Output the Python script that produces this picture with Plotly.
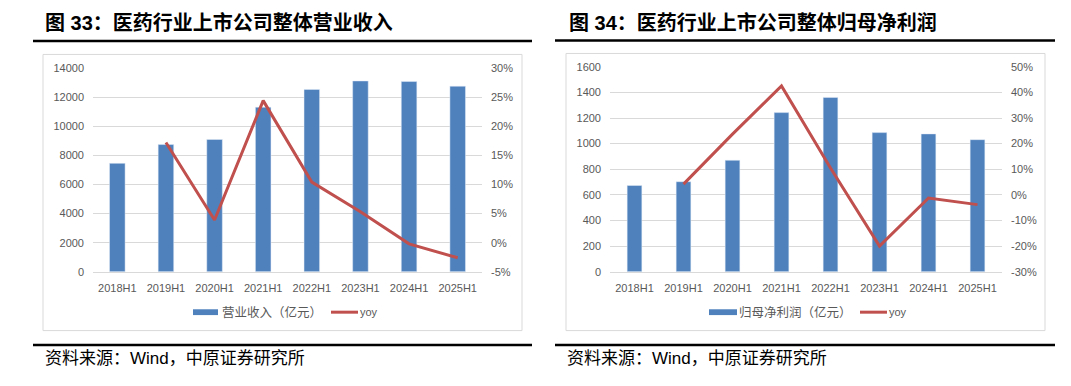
import plotly.graph_objects as go

# ---------------- data ----------------
categories = ["2018H1", "2019H1", "2020H1", "2021H1", "2022H1", "2023H1", "2024H1", "2025H1"]

revenue = [7450, 8740, 9090, 11310, 12530, 13110, 13070, 12750]          # 营业收入（亿元）
revenue_yoy = [None, 17.2, 3.9, 24.4, 10.4, 5.3, -0.2, -2.6]              # %

profit = [673, 703, 870, 1242, 1361, 1086, 1076, 1031]                    # 归母净利润（亿元）
profit_yoy = [None, 4.2, 23.7, 42.5, 10.5, -20.0, -1.2, -3.8]             # %

left_y_ticks = [0, 2000, 4000, 6000, 8000, 10000, 12000, 14000]
left_y_labels = ["0", "2000", "4000", "6000", "8000", "10000", "12000", "14000"]
left_pct_ticks = [-5, 0, 5, 10, 15, 20, 25, 30]
left_pct_labels = ["-5%", "0%", "5%", "10%", "15%", "20%", "25%", "30%"]

right_y_ticks = [0, 200, 400, 600, 800, 1000, 1200, 1400, 1600]
right_y_labels = ["0", "200", "400", "600", "800", "1000", "1200", "1400", "1600"]
right_pct_ticks = [-30, -20, -10, 0, 10, 20, 30, 40, 50]
right_pct_labels = ["-30%", "-20%", "-10%", "0%", "10%", "20%", "30%", "40%", "50%"]

title_left = "图 33：医药行业上市公司整体营业收入"
title_right = "图 34：医药行业上市公司整体归母净利润"
source_text = "资料来源：Wind，中原证券研究所"
legend_left = "营业收入（亿元）"
legend_right = "归母净利润（亿元）"
legend_yoy = "yoy"

# ---------------- style ----------------
W, H = 1071, 386
BAR = "#4F81BD"
LINE = "#C0504D"
GRID = "#D9D9D9"
TICK = "#595959"
SANS = "Liberation Sans, Noto Sans CJK SC, sans-serif"


def px(x):
    return x / W


def py(y):
    return 1 - y / H


fig = go.Figure()

# left chart
fig.add_trace(go.Bar(x=categories, y=revenue, name=legend_left, marker_color=BAR,
                     width=0.32, xaxis="x", yaxis="y", showlegend=False))
fig.add_trace(go.Scatter(x=categories, y=[None if v is None else v / 100 for v in revenue_yoy],
                         name=legend_yoy, mode="lines", line=dict(color=LINE, width=3),
                         xaxis="x", yaxis="y2", showlegend=False))
# right chart
fig.add_trace(go.Bar(x=categories, y=profit, name=legend_right, marker_color=BAR,
                     width=0.30, xaxis="x2", yaxis="y3", showlegend=False))
fig.add_trace(go.Scatter(x=categories, y=[None if v is None else v / 100 for v in profit_yoy],
                         name=legend_yoy, mode="lines", line=dict(color=LINE, width=3),
                         xaxis="x2", yaxis="y4", showlegend=False))

tickfont = dict(family=SANS, size=11, color=TICK)

xcommon = dict(type="category", tickfont=tickfont, showgrid=False, ticks="",
               showline=True, linecolor=GRID, linewidth=1, fixedrange=True,
               ticklabelstandoff=6)

fig.update_layout(
    width=W, height=H,
    margin=dict(l=0, r=0, t=0, b=0),
    paper_bgcolor="white", plot_bgcolor="white",
    showlegend=False,
    xaxis=dict(domain=[px(93), px(482)], anchor="y", **xcommon),
    yaxis=dict(domain=[py(274.3), py(64)], range=[0, 14000], tickvals=left_y_ticks,
               ticktext=left_y_labels,
               tickfont=tickfont, showgrid=True, gridcolor=GRID, gridwidth=1,
               zeroline=False, showline=False, ticks="", anchor="x", ticklabelstandoff=8),
    yaxis2=dict(domain=[py(274.3), py(64)], range=[-0.05, 0.30],
                tickvals=[v / 100 for v in left_pct_ticks], ticktext=left_pct_labels,
                tickfont=tickfont, showgrid=False, zeroline=False, showline=False,
                ticks="", overlaying="y", side="right", anchor="x", ticklabelstandoff=8),
    xaxis2=dict(domain=[px(610), px(1002)], anchor="y3", **xcommon),
    yaxis3=dict(domain=[py(274.3), py(62.7)], range=[0, 1600], tickvals=right_y_ticks,
                ticktext=right_y_labels,
                tickfont=tickfont, showgrid=True, gridcolor=GRID, gridwidth=1,
                zeroline=False, showline=False, ticks="", anchor="x2", ticklabelstandoff=8),
    yaxis4=dict(domain=[py(274.3), py(62.7)], range=[-0.30, 0.50],
                tickvals=[v / 100 for v in right_pct_ticks], ticktext=right_pct_labels,
                tickfont=tickfont, showgrid=False, zeroline=False, showline=False,
                ticks="", overlaying="y3", side="right", anchor="x2", ticklabelstandoff=8),
)

shapes = []
# chart frames
for (x0, x1, y0, y1) in [(43, 522, 50, 335), (566, 1045, 49, 335)]:
    shapes.append(dict(type="rect", xref="paper", yref="paper",
                       x0=px(x0), x1=px(x1), y0=py(y1), y1=py(y0),
                       line=dict(color=GRID, width=1), fillcolor="rgba(0,0,0,0)", layer="below"))
# heavy rules
for (x0, x1, y) in [(33, 532, 36), (33, 532, 350), (555, 1055, 35.6), (555, 1055, 350)]:
    shapes.append(dict(type="line", xref="paper", yref="paper",
                       x0=px(x0), x1=px(x1), y0=py(y), y1=py(y),
                       line=dict(color="black", width=2.5)))


# manual legends
def legend(shapes, ann, bx0, bx1, tx, lx0, lx1, yx, y, label):
    shapes.append(dict(type="rect", xref="paper", yref="paper",
                       x0=px(bx0), x1=px(bx1), y0=py(y + 3), y1=py(y - 3),
                       line=dict(width=0), fillcolor=BAR))
    shapes.append(dict(type="line", xref="paper", yref="paper",
                       x0=px(lx0), x1=px(lx1), y0=py(y), y1=py(y),
                       line=dict(color=LINE, width=3)))
    ann.append(dict(text=label, x=px(tx), y=py(y), xref="paper", yref="paper",
                    xanchor="left", yanchor="middle", showarrow=False,
                    font=dict(family=SANS, size=12.5, color=TICK)))
    ann.append(dict(text=legend_yoy, x=px(yx), y=py(y), xref="paper", yref="paper",
                    xanchor="left", yanchor="middle", showarrow=False,
                    font=dict(family=SANS, size=11, color=TICK)))


annotations = []
legend(shapes, annotations, 193, 218, 220, 331, 358, 358, 316, legend_left)
legend(shapes, annotations, 709, 737, 737, 860, 887, 887, 316, legend_right)

# titles
annotations.append(dict(text="<b>" + title_left + "</b>", x=px(43), y=py(17.5), xref="paper", yref="paper",
                        xanchor="left", yanchor="middle", showarrow=False,
                        font=dict(family=SANS, size=20, color="black")))
annotations.append(dict(text="<b>" + title_right + "</b>", x=px(567), y=py(17.5), xref="paper", yref="paper",
                        xanchor="left", yanchor="middle", showarrow=False,
                        font=dict(family=SANS, size=20, color="black")))
# sources
for x in (43, 565):
    annotations.append(dict(text=source_text, x=px(x), y=py(364), xref="paper", yref="paper",
                            xanchor="left", yanchor="middle", showarrow=False,
                            font=dict(family=SANS, size=17, color="black")))

fig.update_layout(shapes=shapes, annotations=annotations)

fig.write_html(
    "out.html",
    config={"displayModeBar": False},
    post_script=("document.documentElement.style.margin='0';document.body.style.margin='0';"
                 "document.body.style.overflow='hidden';document.documentElement.style.overflow='hidden';"),
)
